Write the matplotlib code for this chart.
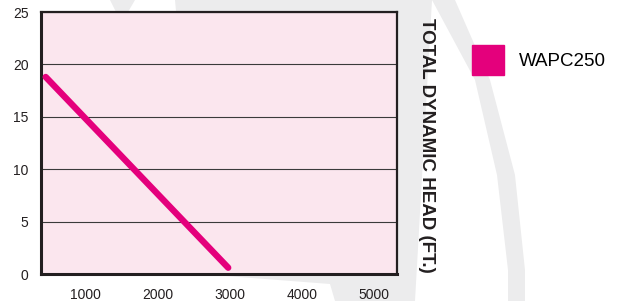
import matplotlib
matplotlib.use("Agg")
import matplotlib.pyplot as plt
from matplotlib.patches import Polygon, Patch

plt.rcParams["font.family"] = ["Liberation Sans", "DejaVu Sans"]

# pump curve
flow = [450, 2980]
head = [18.8, 0.6]
series_name = "WAPC250"
x_ticks = [1000, 2000, 3000, 4000, 5000]
y_ticks = [0, 5, 10, 15, 20, 25]
y_label = "TOTAL DYNAMIC HEAD (FT.)"

W, H = 621, 301
fig = plt.figure(figsize=(W / 100, H / 100), dpi=100)

# faint grey watermark behind everything (pixel coords)
bg = fig.add_axes([0, 0, 1, 1], zorder=0)
bg.set_xlim(0, W)
bg.set_ylim(H, 0)
bg.axis("off")
wm = "#ececed"
bg.add_patch(Polygon([(175, 0), (432, 0), (415, H), (335, H), (330, 284), (200, 274)],
                     color=wm, lw=0))
bg.add_patch(Polygon([(110, 0), (135, 0), (128, 12), (116, 12)], color=wm, lw=0))
band_l = [(432, 0), (475, 80), (497, 175), (508, 270), (508, H)]
band_r = [(525, H), (525, 270), (515, 175), (490, 80), (455, 0)]
bg.add_patch(Polygon(band_l + band_r, color=wm, lw=0))

ax = fig.add_axes([41 / W, 27 / H, 356 / W, 262 / H], zorder=1)
ax.set_facecolor("#fbe6ee")
ax.plot(flow, head, color="#e4007c", lw=4.6, solid_capstyle="round", zorder=3)

ax.set_xlim(385, 5320)
ax.set_ylim(0, 25)
ax.set_xticks(x_ticks)
ax.set_yticks(y_ticks)
ax.tick_params(length=0, labelsize=10, colors="#231f20")
ax.tick_params(axis="y", pad=9)
ax.tick_params(axis="x", pad=10)
ax.grid(axis="y", color="#3a3a3a", lw=0.8)
ax.set_axisbelow(True)
for side, lw in [("left", 2.2), ("bottom", 2.2), ("top", 1.6), ("right", 1.6)]:
    ax.spines[side].set_linewidth(lw)
    ax.spines[side].set_color("#231f20")

fig.text(427 / W, 1 - 145 / H, y_label, rotation=-90, ha="center", va="center",
         fontsize=13.5, fontweight="bold", color="#231f20")

fig.legend(handles=[Patch(color="#e4007c", label=series_name)],
           loc="upper left", bbox_to_anchor=(472 / W, 1 - 45 / H),
           frameon=False, fontsize=13.5, handlelength=1.68, handleheight=2.1,
           handletextpad=0.8, borderpad=0, borderaxespad=0)

fig.savefig("out.png", dpi=100)
